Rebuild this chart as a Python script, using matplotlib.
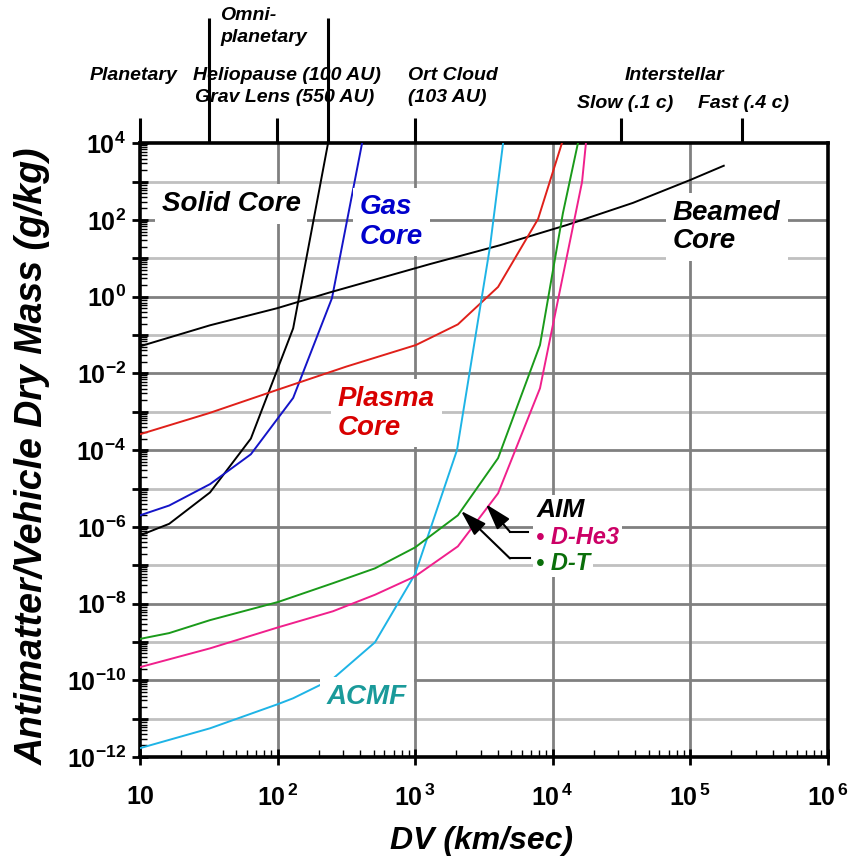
import numpy as np
import matplotlib.pyplot as plt
from matplotlib.ticker import LogLocator, FixedLocator, NullFormatter, FuncFormatter

plt.rcParams['font.family'] = ['Liberation Sans', 'DejaVu Sans']
plt.rcParams['mathtext.fontset'] = 'custom'
plt.rcParams['mathtext.rm'] = 'Liberation Sans:bold'
plt.rcParams['mathtext.bf'] = 'Liberation Sans:bold'
plt.rcParams['mathtext.it'] = 'Liberation Sans:bold:italic'

# curves: delta-V (km/s) vs antimatter / vehicle dry mass (g/kg)
solid_dv = [10, 16.3, 32.3, 64, 130, 233]
solid_mass = [6.0e-7, 1.2e-6, 7.9e-6, 2.0e-4, 0.15, 1e4]

gas_dv = [10, 16.3, 32.3, 64, 130, 249, 412]
gas_mass = [2.0e-6, 3.6e-6, 1.3e-5, 7.8e-5, 2.3e-3, 0.92, 1e4]

beamed_dv = [10, 32.3, 99, 241, 1285, 4150, 12700, 38500, 1e5, 176000]
beamed_mass = [0.051, 0.18, 0.50, 1.3, 7.1, 22, 74, 280, 1100, 2600]

plasma_dv = [10, 31.7, 99, 315, 1015, 2050, 4020, 7850, 11700]
plasma_mass = [2.6e-4, 9.2e-4, 3.7e-3, 0.015, 0.055, 0.19, 1.8, 106, 1e4]

acmf_dv = [10, 32.3, 101, 130, 253, 512, 1000, 2020, 3510, 4370]
acmf_mass = [1.7e-12, 5.6e-12, 2.4e-11, 3.4e-11, 1.1e-10, 9.8e-10, 5.8e-8, 1.0e-4, 20, 1e4]

dt_dv = [10, 16.3, 32.3, 101, 130, 253, 512, 1000, 2050, 4020, 8110, 11900, 15300]
dt_mass = [1.2e-9, 1.7e-9, 3.7e-9, 1.1e-8, 1.5e-8, 3.4e-8, 8.3e-8, 2.9e-7, 2.0e-6, 6.2e-5, 0.055, 150, 1e4]

dhe3_dv = [10, 32.3, 101, 253, 512, 1000, 2050, 4020, 8110, 16400, 17500]
dhe3_mass = [2.2e-10, 6.8e-10, 2.4e-9, 6.3e-9, 1.7e-8, 5.1e-8, 3.1e-7, 7.5e-6, 4.1e-3, 980, 1e4]

# mission class boundaries on the top axis (km/s)
zone_long = [32, 233]
zone_short = [10, 100, 1000, 31500, 239000]

W, H = 857, 859
fig = plt.figure(figsize=(W / 100, H / 100), dpi=100)
ax = fig.add_axes([140 / W, 1 - 757 / H, 687.5 / W, 613.7 / H])
ax.set_xscale('log')
ax.set_yscale('log')
ax.set_xlim(10, 1e6)
ax.set_ylim(1e-12, 1e4)

# grid: dark at even decades, light at odd decades
for e in range(-11, 4):
    c = '#808080' if e % 2 == 0 else '#c0c0c0'
    ax.axhline(10.0 ** e, color=c, lw=2.0, zorder=1)
for e in range(2, 6):
    ax.axvline(10.0 ** e, color='#808080', lw=2.0, zorder=1)

lw = 1.4
ax.plot(solid_dv, solid_mass, color='black', lw=lw, zorder=3)
ax.plot(gas_dv, gas_mass, color='#1414c8', lw=lw, zorder=3)
ax.plot(beamed_dv, beamed_mass, color='black', lw=lw, zorder=3)
ax.plot(plasma_dv, plasma_mass, color='#e0201a', lw=lw, zorder=3)
ax.plot(acmf_dv, acmf_mass, color='#1eb4e6', lw=lw, zorder=3)
ax.plot(dt_dv, dt_mass, color='#1a9a1a', lw=lw, zorder=3)
ax.plot(dhe3_dv, dhe3_mass, color='#f0208c', lw=lw, zorder=3)

# ticks
ax.xaxis.set_major_locator(LogLocator(base=10, numticks=20))
ax.xaxis.set_minor_locator(LogLocator(base=10, subs=np.arange(2, 10), numticks=100))
ax.yaxis.set_major_locator(LogLocator(base=10, numticks=40))
ax.yaxis.set_minor_locator(LogLocator(base=10, subs=np.arange(2, 10), numticks=200))
ax.xaxis.set_minor_formatter(NullFormatter())
ax.yaxis.set_minor_formatter(NullFormatter())


def xfmt(v, pos):
    e = int(round(np.log10(v)))
    if e == 1:
        return r'$10$'
    return r'$10^{\,%d}$' % e


def yfmt(v, pos):
    e = int(round(np.log10(v)))
    if e % 2:
        return ''
    return r'$10^{%d}$' % e


ax.xaxis.set_major_formatter(FuncFormatter(xfmt))
ax.yaxis.set_major_formatter(FuncFormatter(yfmt))
ax.tick_params(which='major', direction='inout', length=12, width=2, labelsize=18,
               top=False, right=False)
ax.tick_params(which='minor', direction='in', length=5, width=1, top=False, right=False)
ax.tick_params(axis='x', which='major', pad=14)
ax.tick_params(axis='y', which='major', pad=4)
for s in ax.spines.values():
    s.set_linewidth(2.6)

ax.set_xlabel('DV (km/sec)', fontsize=23, fontweight='bold', style='italic')
ax.set_ylabel('Antimatter/Vehicle Dry Mass (g/kg)', fontsize=27, fontweight='bold',
              style='italic')
ax.xaxis.set_label_coords(0.497, -0.112)
ax.yaxis.set_label_coords(-0.13, 0.49)

# top axis with mission class boundaries
top = ax.twiny()
top.set_xscale('log')
top.set_xlim(ax.get_xlim())
top.xaxis.set_major_locator(FixedLocator(zone_long))
top.xaxis.set_minor_locator(FixedLocator(zone_short))
top.xaxis.set_major_formatter(NullFormatter())
top.xaxis.set_minor_formatter(NullFormatter())
top.tick_params(which='major', direction='out', length=90, width=2.2)
top.tick_params(which='minor', direction='out', length=18, width=2.2)
for s in top.spines.values():
    s.set_visible(False)

tk = dict(fontsize=14, fontweight='bold', style='italic', va='center')


def ftext(x, y, s, **kw):
    fig.text(x / W, 1 - y / H, s, **kw)


ftext(134, 75, 'Planetary', ha='center', **tk)
ftext(220, 16, 'Omni-', ha='left', **tk)
ftext(220, 38, 'planetary', ha='left', **tk)
ftext(193, 75, 'Heliopause (100 AU)', ha='left', **tk)
ftext(195, 97, 'Grav Lens (550 AU)', ha='left', **tk)
ftext(408, 75, 'Ort Cloud', ha='left', **tk)
ftext(408, 97, '(103 AU)', ha='left', **tk)
ftext(675, 75, 'Interstellar', ha='center', **tk)
ftext(625, 103, 'Slow (.1 c)', ha='center', **tk)
ftext(743, 103, 'Fast (.4 c)', ha='center', **tk)

# curve labels
lab = dict(fontsize=20, fontweight='bold', style='italic', va='center', zorder=2.5,
           linespacing=1.15)
box = dict(facecolor='white', edgecolor='none', pad=5)
ftext(231, 204, 'Solid Core', ha='center', color='black', bbox=box, **lab)
ftext(360, 222, 'Gas\nCore', ha='left', color='#0000cc', bbox=box, **lab)
ftext(673, 227, 'Beamed\nCore', ha='left', color='black', bbox=box, **lab)
ftext(338, 413, 'Plasma\nCore', ha='left', color='#d80000', bbox=box, **lab)
ftext(327, 697, 'ACMF', ha='left', color='#1a9a9a', bbox=box, **lab)

# AIM legend and pointers
small_box = dict(facecolor='white', edgecolor='none', pad=2)
ftext(537, 510, 'AIM', ha='left', va='center', fontsize=19, fontweight='bold',
      style='italic', color='black', zorder=2.5, bbox=small_box)
ftext(536, 537, '\u2022 D-He3', ha='left', va='center', fontsize=17, fontweight='bold',
      style='italic', color='#cc0066', zorder=2.5, bbox=small_box)
ftext(536, 563, '\u2022 D-T', ha='left', va='center', fontsize=17, fontweight='bold',
      style='italic', color='#0a6e0a', zorder=2.5, bbox=small_box)

arrow = dict(arrowstyle='-|>,head_length=0.8,head_width=0.25', color='black', lw=1.5,
             mutation_scale=20, shrinkA=0, shrinkB=0)
ax.plot([4910, 6640], [7.4e-7, 7.4e-7], color='black', lw=1.5, zorder=4)
ax.annotate('', xy=(3280, 3.9e-6), xytext=(4910, 7.4e-7), arrowprops=arrow, zorder=4)
ax.plot([4910, 6860], [1.5e-7, 1.5e-7], color='black', lw=1.5, zorder=4)
ax.annotate('', xy=(2160, 2.6e-6), xytext=(4910, 1.5e-7), arrowprops=arrow, zorder=4)

fig.savefig('out.png', dpi=100)
